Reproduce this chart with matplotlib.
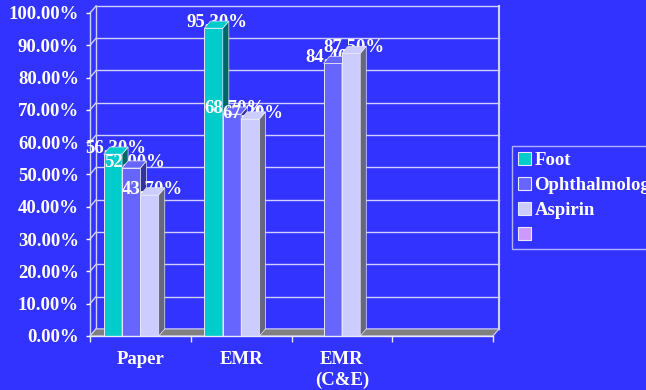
import numpy as np
import matplotlib
matplotlib.use("Agg")
import matplotlib.pyplot as plt
from matplotlib.patches import Patch, Polygon

categories = ["Paper", "EMR", "EMR\n(C&E)", ""]
series_names = ["Foot", "Ophthalmology", "Aspirin", ""]
foot = [56.3, 95.3, np.nan, np.nan]
ophthalmology = [52.0, 68.7, 84.4, np.nan]
aspirin = [43.7, 67.2, 87.5, np.nan]
fourth = [np.nan, np.nan, np.nan, np.nan]
y_ticks = list(range(0, 101, 10))

BG = "#3333FF"
FRONT = ["#00CCCC", "#6666FF", "#CCCCFF", "#CC99FF"]
SIDE = ["#006666", "#333399", "#66667F", "#66497F"]
GRID = "#D0D0FF"
FONT = "Liberation Serif"

W = 0.182          # bar width (category units)
DX, DY = 0.06, 2.2  # fake 3D depth in data units

plt.rcParams["font.family"] = [FONT, "DejaVu Serif"]
plt.rcParams["font.weight"] = "bold"

fig = plt.figure(figsize=(6.46, 3.90), dpi=100, facecolor=BG)
ax = fig.add_axes([90 / 646, 54 / 390, 403 / 646, 323 / 390])
ax.set_facecolor("none")
ax.set_xlim(-0.5, len(categories) - 0.5)
ax.set_ylim(0, 100)
for s in ax.spines.values():
    s.set_visible(False)

x0, x1 = ax.get_xlim()
# back wall + gridlines
for v in y_ticks:
    ax.plot([x0 + DX, x1 + DX], [v + DY, v + DY], color=GRID, lw=1, zorder=1, clip_on=False)
    ax.plot([x0, x0 + DX], [v, v + DY], color=GRID, lw=1, zorder=1, clip_on=False)
ax.plot([x0 + DX, x0 + DX], [DY, 100 + DY], color=GRID, lw=1, zorder=1, clip_on=False)
ax.plot([x1 + DX, x1 + DX], [DY, 100 + DY], color=GRID, lw=1.5, zorder=1, clip_on=False)
ax.plot([x0, x0], [0, 100], color=GRID, lw=1, zorder=1, clip_on=False)
# floor
ax.add_patch(Polygon([(x0, 0), (x1, 0), (x1 + DX, DY), (x0 + DX, DY)], closed=True,
                     facecolor="#808080", edgecolor=GRID, lw=0.8, zorder=2, clip_on=False))

data = [foot, ophthalmology, aspirin, fourth]
xs = np.arange(len(categories))
for j, vals in enumerate(data):
    pos = xs + (j - 1.5) * W
    base_z = 3 + 3 * j
    bars = ax.bar(pos, np.nan_to_num(vals), W, color=FRONT[j], edgecolor="#E8E8FF",
                  lw=0.7, zorder=base_z, clip_on=False)
    for b, v in zip(bars, vals):
        if np.isnan(v):
            continue
        bx0, bx1 = b.get_x(), b.get_x() + b.get_width()
        ax.add_patch(Polygon([(bx1, 0), (bx1 + DX, DY), (bx1 + DX, v + DY), (bx1, v)],
                             closed=True, facecolor=SIDE[j], edgecolor="#E8E8FF", lw=0.5,
                             zorder=base_z + 2, clip_on=False))
        ax.add_patch(Polygon([(bx0, v), (bx1, v), (bx1 + DX, v + DY), (bx0 + DX, v + DY)],
                             closed=True, facecolor=FRONT[j], edgecolor="#E8E8FF", lw=0.5,
                             zorder=base_z + 2, clip_on=False))
        ax.text((bx0 + bx1) / 2 + DX / 2, v + 1.7, f"{v:.2f}%", color="white", fontsize=13.5,
                fontweight="bold", ha="center", va="center", zorder=base_z + 1)

# front baseline
ax.plot([x0, x1], [0, 0], color="#E8E8FF", lw=1, zorder=20, clip_on=False)

ax.set_yticks(y_ticks)
ax.set_yticklabels([f"{v:.2f}%" for v in y_ticks])
ax.tick_params(axis="y", colors="white", labelcolor="white", length=3, width=1, pad=5,
               labelsize=13.5)
ax.set_xticks(xs)
ax.set_xticklabels(categories)
ax.set_xticks(np.arange(len(categories) + 1) - 0.5, minor=True)
ax.tick_params(axis="x", which="major", length=0, pad=11, labelcolor="white", labelsize=13.5)
ax.tick_params(axis="x", which="minor", length=4, width=1, colors="#E8E8FF")
for lab in ax.get_xticklabels() + ax.get_yticklabels():
    lab.set_fontweight("bold")
    lab.set_linespacing(1.25)

handles = [Patch(facecolor=FRONT[j], edgecolor="#E8E8FF", lw=0.8) for j in range(4)]
leg = fig.legend(handles, series_names, loc="upper left", bbox_to_anchor=(512 / 646, 1 - 146 / 390),
                 frameon=True, prop={"family": FONT, "weight": "bold", "size": 13.5},
                 handlelength=0.7, handleheight=0.7, handletextpad=0.2, labelspacing=0.42,
                 borderpad=0.3, borderaxespad=0)
leg.get_frame().set_facecolor(BG)
leg.get_frame().set_edgecolor(GRID)
leg.get_frame().set_boxstyle("square", pad=0)
for t in leg.get_texts():
    t.set_color("white")

fig.savefig("out.png", dpi=100, facecolor=BG)
